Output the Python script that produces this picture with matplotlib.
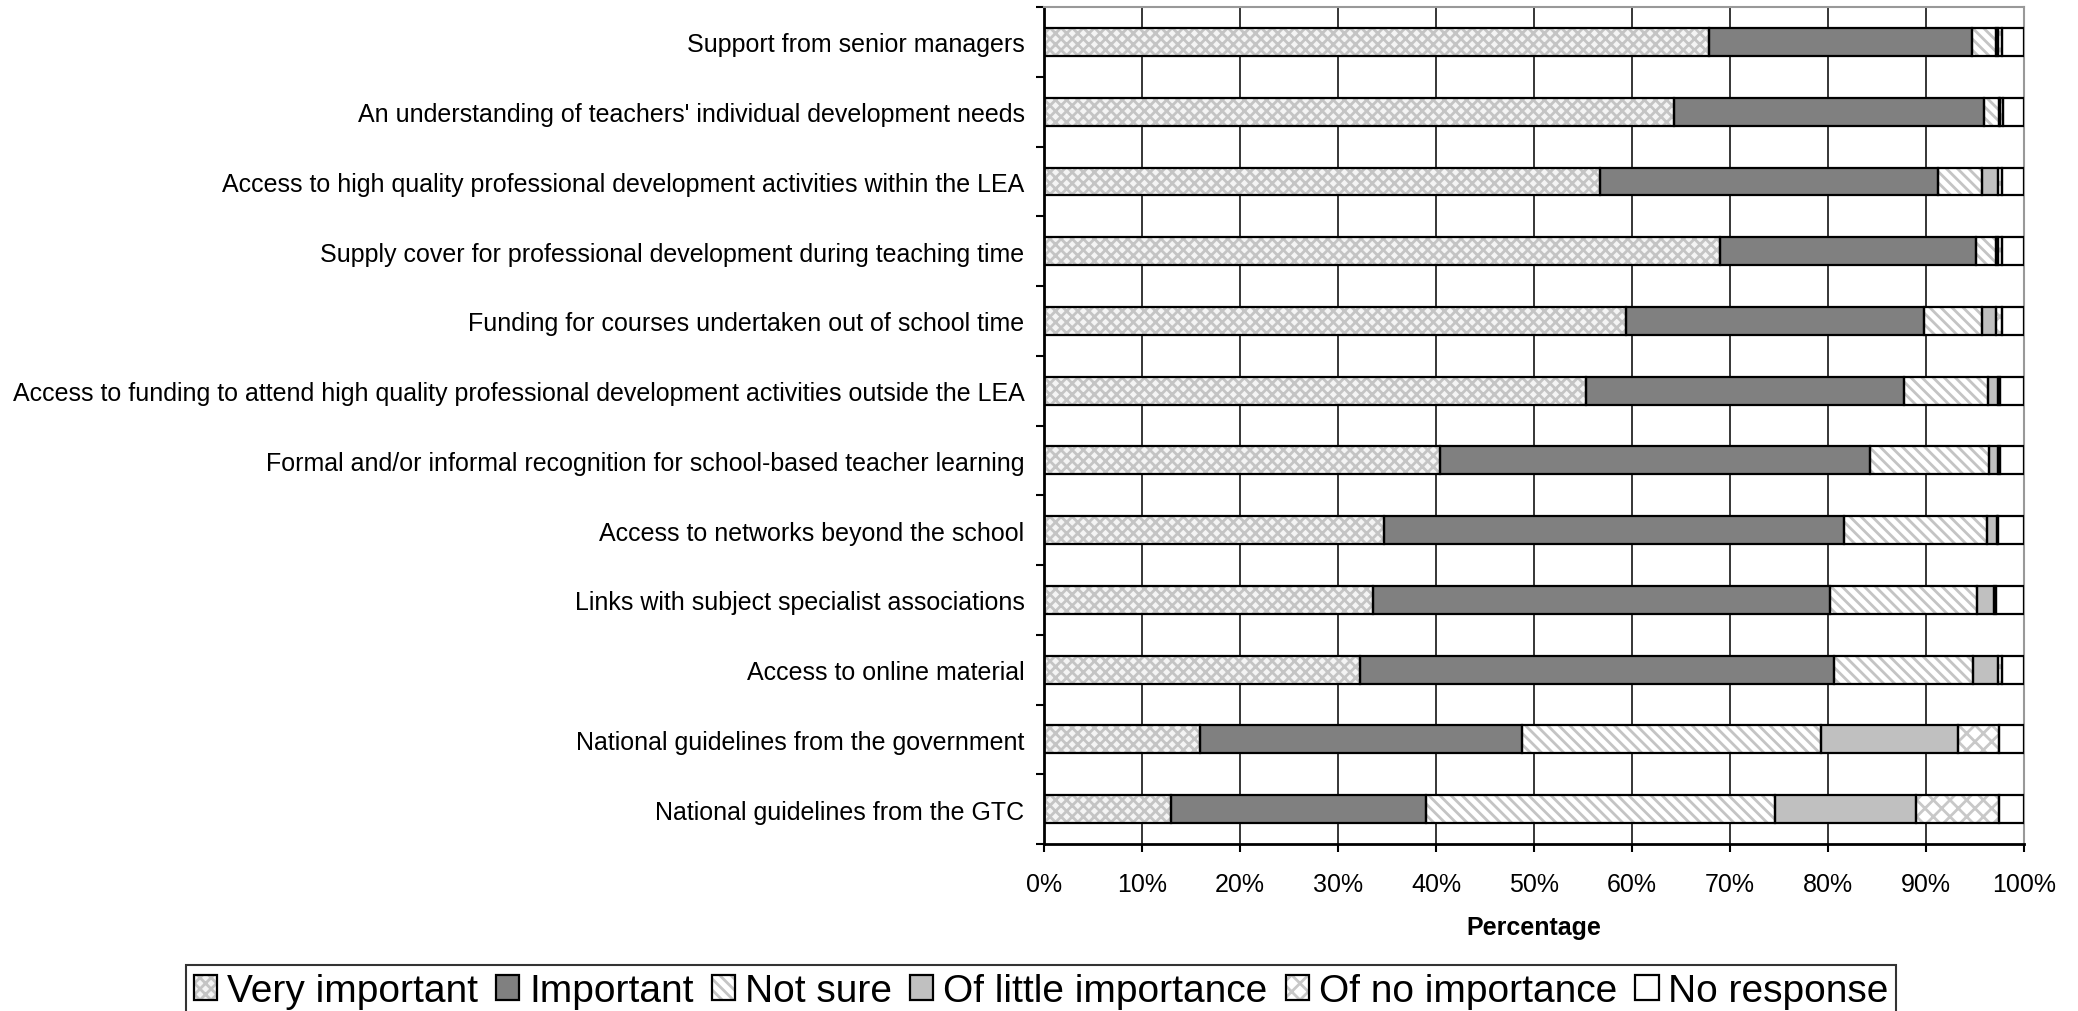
import numpy as np
import matplotlib
matplotlib.use("Agg")
import matplotlib.pyplot as plt
from matplotlib.patches import Patch
from matplotlib.legend_handler import HandlerTuple

plt.rcParams['font.family'] = ['Liberation Sans', 'DejaVu Sans']
plt.rcParams['hatch.linewidth'] = 2.0

categories = [
    "Support from senior managers",
    "An understanding of teachers' individual development needs",
    "Access to high quality professional development activities within the LEA",
    "Supply cover for professional development during teaching time",
    "Funding for courses undertaken out of school time",
    "Access to funding to attend high quality professional development activities outside the LEA",
    "Formal and/or informal recognition for school-based teacher learning",
    "Access to networks beyond the school",
    "Links with subject specialist associations",
    "Access to online material",
    "National guidelines from the government",
    "National guidelines from the GTC",
]

very_important = [67.9, 64.3, 56.7, 69.0, 59.4, 55.3, 40.4, 34.7, 33.6, 32.2, 15.9, 13.0]
important = [26.8, 31.6, 34.5, 26.1, 30.4, 32.5, 43.9, 46.9, 46.6, 48.4, 32.9, 26.0]
not_sure = [2.4, 1.6, 4.5, 2.0, 5.9, 8.5, 12.1, 14.6, 15.0, 14.2, 30.5, 35.6]
little_importance = [0.2, 0.1, 1.6, 0.2, 1.4, 1.0, 0.9, 1.0, 1.7, 2.6, 14.0, 14.4]
no_importance = [0.5, 0.3, 0.5, 0.5, 0.7, 0.3, 0.3, 0.2, 0.2, 0.4, 4.2, 8.5]
no_response = [2.2, 2.1, 2.2, 2.2, 2.2, 2.4, 2.4, 2.6, 2.9, 2.2, 2.5, 2.5]

series = [
    ("Very important", very_important, "#f4f4f4", "xxx", "#c4c4c4"),
    ("Important", important, "#808080", None, "#808080"),
    ("Not sure", not_sure, "white", "\\\\\\", "#c4c4c4"),
    ("Of little importance", little_importance, "#c0c0c0", None, "#c0c0c0"),
    ("Of no importance", no_importance, "white", "xx", "#c8c8c8"),
    ("No response", no_response, "white", None, "white"),
]

fig = plt.figure(figsize=(20.78, 10.12), dpi=100)
ax = fig.add_axes([0.5024, 0.165, 0.4716, 0.827])

y = np.arange(len(categories))
left = np.zeros(len(categories))
handles = []
for name, vals, fc, hatch, hc in series:
    vals = np.array(vals)
    ax.barh(y, vals, left=left, height=0.4, color=fc, hatch=hatch,
            edgecolor=hc, linewidth=0, zorder=2)
    ax.barh(y, vals, left=left, height=0.4, fill=False,
            edgecolor="black", linewidth=1.6, zorder=3)
    left += vals
    h1 = Patch(facecolor=fc, hatch=hatch, edgecolor=hc, linewidth=0)
    h2 = Patch(fill=False, edgecolor="black", linewidth=1.6)
    handles.append(((h1, h2), name))

ax.set_xlim(0, 100)
ax.set_ylim(len(categories) - 0.5, -0.5)
ax.set_xticks(np.arange(0, 101, 10))
ax.set_xticklabels([f"{v}%" for v in range(0, 101, 10)], fontsize=18)
ax.xaxis.grid(True, color="black", linewidth=1.1, zorder=0)
ax.set_axisbelow(True)

# ticks sit on category boundaries, labels at the centres
ax.set_yticks(np.arange(-0.5, len(categories), 1))
ax.set_yticklabels([])
ax.set_yticks(y, minor=True)
ax.set_yticklabels(categories, minor=True, fontsize=18)
ax.tick_params(axis="y", which="minor", length=0, pad=14)
ax.tick_params(axis="y", which="major", length=6, width=1.5, direction="out")
ax.tick_params(axis="x", length=6, width=1.5, direction="out", pad=14)

for s in ["left", "bottom"]:
    ax.spines[s].set_linewidth(2)
    ax.spines[s].set_color("black")
for s in ["top", "right"]:
    ax.spines[s].set_linewidth(1.5)
    ax.spines[s].set_color("#999999")

ax.set_xlabel("Percentage", fontsize=18, fontweight="bold", labelpad=14)

leg = fig.legend([h for h, _ in handles], [n for _, n in handles],
                 loc="upper center", bbox_to_anchor=(0.501, 0.045),
                 borderaxespad=0, ncol=6, fontsize=28, frameon=True,
                 fancybox=False, edgecolor="black", handlelength=0.6,
                 handleheight=0.6, handletextpad=0.25, columnspacing=0.47,
                 borderpad=0.2,
                 handler_map={tuple: HandlerTuple(ndivide=1)})
leg.get_frame().set_linewidth(1.5)

fig.savefig("out.png", dpi=100)
